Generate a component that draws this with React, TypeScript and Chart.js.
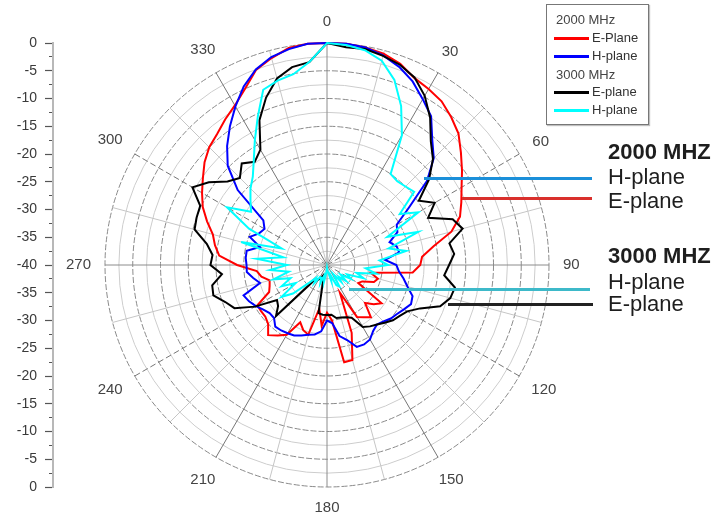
import React, { useEffect, useRef } from 'react';
import { Chart, registerables } from 'chart.js';

Chart.register(...registerables);

const FONT = '"Liberation Sans", Arial, Helvetica, sans-serif';

// Angles (degrees, clockwise from top) at which the pattern was sampled
const ANGLES = [
  0, 5, 10, 15, 20, 25, 30, 35, 40, 45, 50, 55, 60, 65, 70, 75, 80, 85,
  90, 95, 100, 105, 110, 115, 120, 125, 130, 135, 140, 145, 150, 155, 160, 165, 170, 175,
  180, 185, 190, 195, 200, 205, 210, 215, 220, 225, 230, 235, 240, 245, 250, 255, 260, 265,
  270, 275, 280, 285, 290, 295, 300, 305, 310, 315, 320, 325, 330, 335, 340, 345, 350, 355,
];

// Angle tick labels shown round the circle
const ANGLE_TICKS = ['0', '30', '60', '90', '120', '150', '180', '210', '240', '270', '300', '330'];

// Radial (dB) range
const DB_MIN = -40;
const DB_MAX = 0;
const DB_STEP = 2.5;

// 2000 MHz, E-plane (dB)
const E_2000 = [
  0, 0, -0.2, -0.6, -1.4, -2.8, -3.4, -4, -5.2, -6.5,
  -8.5, -10.3, -12, -13.3, -14.5, -16.8, -20.5, -22.8, -23.2, -24.5,
  -32, -30.5, -31, -33, -33.5, -28, -29, -30.3, -27.7, -28.5,
  -29.2, -34.5, -27, -22.3, -22.2, -30, -31.4, -29, -32, -27,
  -27.5, -28.6, -25.5, -24.5, -23.5, -25, -25.5, -25.5, -25.5, -28.5,
  -29, -29.3, -28, -27.3, -23.8, -20.5, -19.5, -18.7, -17, -15.3,
  -14, -12.7, -11.2, -10, -9.2, -8, -6.8, -5, -2.6, -1.4,
  -0.3, 0,
];

// 2000 MHz, H-plane (dB)
const H_2000 = [
  0, 0, -0.2, -0.9, -2, -3.5, -5.5, -7.3, -10.5, -12.8,
  -16.5, -22, -25.5, -26, -28, -27, -26.8, -29.5, -27.5, -27,
  -26, -25, -23.6, -23.3, -24, -24.6, -25, -25.6, -26, -25.5,
  -24.5, -24.2, -24.3, -26, -27, -29.5, -30, -28, -27.3, -27,
  -26.5, -26, -25.8, -25.6, -25.5, -26.5, -26.5, -26, -25.2, -24.5,
  -24, -27.5, -26.5, -25.5, -25.5, -25.3, -25.3, -27.5, -25.2, -26.5,
  -27, -26, -19, -14.7, -12, -9.5, -7, -4.5, -2.5, -1.2,
  -0.5, 0,
];

// 3000 MHz, E-plane (dB)
const E_3000 = [
  0, -0.6, -0.5, -1.0, -1.6, -2.7, -4.8, -7.6, -10.9, -13,
  -16, -19.8, -17.6, -19.9, -15.9, -14.7, -17.6, -17, -18, -18.8,
  -16.6, -17, -18.3, -21.5, -23.3, -24, -24.5, -25.3, -26, -26.5,
  -27.1, -29.5, -30, -30.2, -30.3, -31, -31, -31, -31.2, -37.5,
  -38, -37.5, -37, -36.8, -36.3, -27, -28.5, -29, -25, -21.6,
  -20.5, -18.8, -19, -21, -19, -19.3, -18, -15.3, -15, -14.8,
  -12, -14, -16.6, -17.8, -16.1, -17.3, -16, -11.2, -7.9, -5.2,
  -3.8, -3.3,
];

// 3000 MHz, H-plane (dB)
const H_3000 = [
  0, -0.2, -0.7, -1.9, -4.5, -8.4, -13, -20, -20.3, -20,
  -19.5, -24, -21, -28, -22.5, -28.5, -25.5, -30.5, -29, -33,
  -31, -34.5, -33, -36, -35, -37, -35.5, -37, -36, -38,
  -35.5, -36, -38, -37, -38.5, -39, -39.5, -38.5, -37, -38,
  -36.5, -37.5, -37.5, -36, -37, -35.5, -32, -30, -33.5, -31,
  -33, -30, -33, -29.7, -32.8, -27.3, -32, -24, -31.3, -24.5,
  -19.2, -23.3, -22, -20.5, -19.2, -17, -14, -10.5, -6.4, -5.6,
  -5.1, -3.3,
];

const SERIES = [
  { label: '2000 MHz E-Plane', data: E_2000, color: '#ff0000', order: 3 },
  { label: '2000 MHz H-plane', data: H_2000, color: '#0000ff', order: 2 },
  { label: '3000 MHz E-plane', data: E_3000, color: '#000000', order: 1 },
  { label: '3000 MHz H-plane', data: H_3000, color: '#00ffff', order: 0 },
];

const LEGEND_ROWS = [
  { text: '2000 MHz', color: null },
  { text: 'E-Plane', color: '#ff0000' },
  { text: 'H-plane', color: '#0000ff' },
  { text: '3000 MHz', color: null },
  { text: 'E-plane', color: '#000000' },
  { text: 'H-plane', color: '#00ffff' },
];

const angleLabelPlugin = {
  id: 'angleLabels',
  afterDraw(chart: any) {
    const r = chart.scales.r;
    const ctx = chart.ctx;
    ctx.save();
    ctx.font = '15px ' + FONT;
    ctx.fillStyle = '#444';
    ctx.textAlign = 'center';
    ctx.textBaseline = 'middle';
    ANGLE_TICKS.forEach((t) => {
      const deg = Number(t);
      const idx = ANGLES.indexOf(deg);
      const th = (deg * Math.PI) / 180;
      const w = ctx.measureText(t).width;
      const off = 14 + Math.abs(Math.sin(th)) * (w / 2) + Math.abs(Math.cos(th)) * 7;
      const p = r.getPointPosition(idx, r.drawingArea + off);
      ctx.fillText(t, p.x, p.y);
    });
    ctx.restore();
  },
};

export default function App() {
  const ref = useRef<HTMLCanvasElement>(null);

  useEffect(() => {
    Chart.defaults.font.family = FONT;
    const chart = new Chart(ref.current as HTMLCanvasElement, {
      type: 'radar',
      data: {
        labels: ANGLES.map(String),
        datasets: SERIES.map((s) => ({
          label: s.label,
          data: s.data,
          borderColor: s.color,
          backgroundColor: s.color,
          borderWidth: 2,
          pointRadius: 0,
          fill: false,
          tension: 0,
          order: s.order,
        })),
      },
      options: {
        responsive: false,
        animation: false,
        events: [],
        layout: { padding: { left: 8, top: 43, right: 116, bottom: 31 } },
        plugins: { legend: { display: false }, tooltip: { enabled: false } },
        scales: {
          r: {
            min: DB_MIN,
            max: DB_MAX,
            ticks: { display: false, stepSize: DB_STEP },
            pointLabels: { display: false },
            grid: {
              circular: true,
              lineWidth: 1,
              color: (c: any) => (c.tick && c.tick.value % 5 === 0 ? '#8a8a8a' : '#cdcdcd'),
            },
            border: {
              dash: (c: any) => (c.tick && c.tick.value % 5 === 0 ? [6, 2] : []),
            },
            angleLines: {
              color: (c: any) => {
                const a = ANGLES[c.index];
                if (a % 90 === 0) return '#8c8c8c';
                if (a % 30 === 0) return '#767676';
                if (a % 15 === 0) return '#c6c6c6';
                return 'rgba(0,0,0,0)';
              },
              lineWidth: (c: any) => (ANGLES[c.index] % 15 === 0 ? 1 : 0),
              borderDash: (c: any) => {
                const a = ANGLES[c.index];
                return a === 60 || a === 120 || a === 240 || a === 300 ? [6, 3] : [];
              },
            },
          },
          y: {
            type: 'linear',
            position: 'left',
            min: DB_MIN,
            max: -DB_MIN,
            afterFit: (s: any) => {
              s.width = 45;
            },
            ticks: {
              stepSize: DB_STEP,
              autoSkip: false,
              padding: 8,
              color: '#3a3a3a',
              font: { size: 14, family: FONT },
              callback: (v: any) => (Number(v) % 5 === 0 ? String(Math.abs(Number(v)) + DB_MIN) : ''),
            },
            grid: {
              drawOnChartArea: false,
              tickLength: 8,
              tickColor: '#555',
              tickWidth: 1.2,
              tickBorderDash: (c: any) => (c.tick && Number(c.tick.value) % 5 === 0 ? [] : [0, 4, 100]),
            },
            border: { display: true, color: '#b8b8b8', width: 2 },
          },
        },
      } as any,
      plugins: [angleLabelPlugin],
    });
    return () => chart.destroy();
  }, []);

  const annoText = (text: string, top: number, bold: boolean) => (
    <div
      style={{
        position: 'absolute',
        left: 608,
        top,
        fontSize: 22,
        lineHeight: '22px',
        fontWeight: bold ? 700 : 400,
        color: '#1e1e1e',
        whiteSpace: 'nowrap',
      }}
    >
      {text}
    </div>
  );

  const annoLine = (x1: number, x2: number, y: number, color: string) => (
    <div
      style={{
        position: 'absolute',
        left: x1,
        top: y - 1.5,
        width: x2 - x1,
        height: 3,
        background: color,
      }}
    />
  );

  const legendTops = [15, 33, 51, 70, 87, 105];

  return (
    <div
      style={{
        position: 'fixed',
        left: 0,
        top: 0,
        width: 717,
        height: 518,
        background: '#fff',
        fontFamily: FONT,
        overflow: 'hidden',
      }}
    >
      <canvas ref={ref} width={717} height={518} style={{ position: 'absolute', left: 0, top: 0 }} />

      {/* legend box */}
      <div
        style={{
          position: 'absolute',
          left: 546,
          top: 4,
          width: 101,
          height: 119,
          border: '1px solid #777',
          background: '#fff',
          boxShadow: '1px 1px 1px rgba(0,0,0,0.25)',
        }}
      >
        {LEGEND_ROWS.map((row, i) => (
          <div key={i} style={{ position: 'absolute', left: 0, top: legendTops[i] - 7, height: 14, width: 101 }}>
            {row.color ? (
              <>
                <div
                  style={{
                    position: 'absolute',
                    left: 7,
                    top: 6,
                    width: 35,
                    height: 2.5,
                    background: row.color,
                  }}
                />
                <div
                  style={{
                    position: 'absolute',
                    left: 45,
                    top: 0,
                    fontSize: 13,
                    lineHeight: '14px',
                    color: '#333',
                    whiteSpace: 'nowrap',
                  }}
                >
                  {row.text}
                </div>
              </>
            ) : (
              <div
                style={{
                  position: 'absolute',
                  left: 9,
                  top: 0,
                  fontSize: 13,
                  lineHeight: '14px',
                  color: '#444',
                  whiteSpace: 'nowrap',
                }}
              >
                {row.text}
              </div>
            )}
          </div>
        ))}
      </div>

      {/* right-hand annotations */}
      {annoLine(424, 592, 178, '#1b8fd9')}
      {annoLine(462, 592, 198, '#d9302c')}
      {annoLine(349, 590, 289, '#3db9c9')}
      {annoLine(448, 593, 304, '#222222')}
      {annoText('2000 MHZ', 141, true)}
      {annoText('H-plane', 166, false)}
      {annoText('E-plane', 190, false)}
      {annoText('3000 MHZ', 245, true)}
      {annoText('H-plane', 271, false)}
      {annoText('E-plane', 293, false)}
    </div>
  );
}
